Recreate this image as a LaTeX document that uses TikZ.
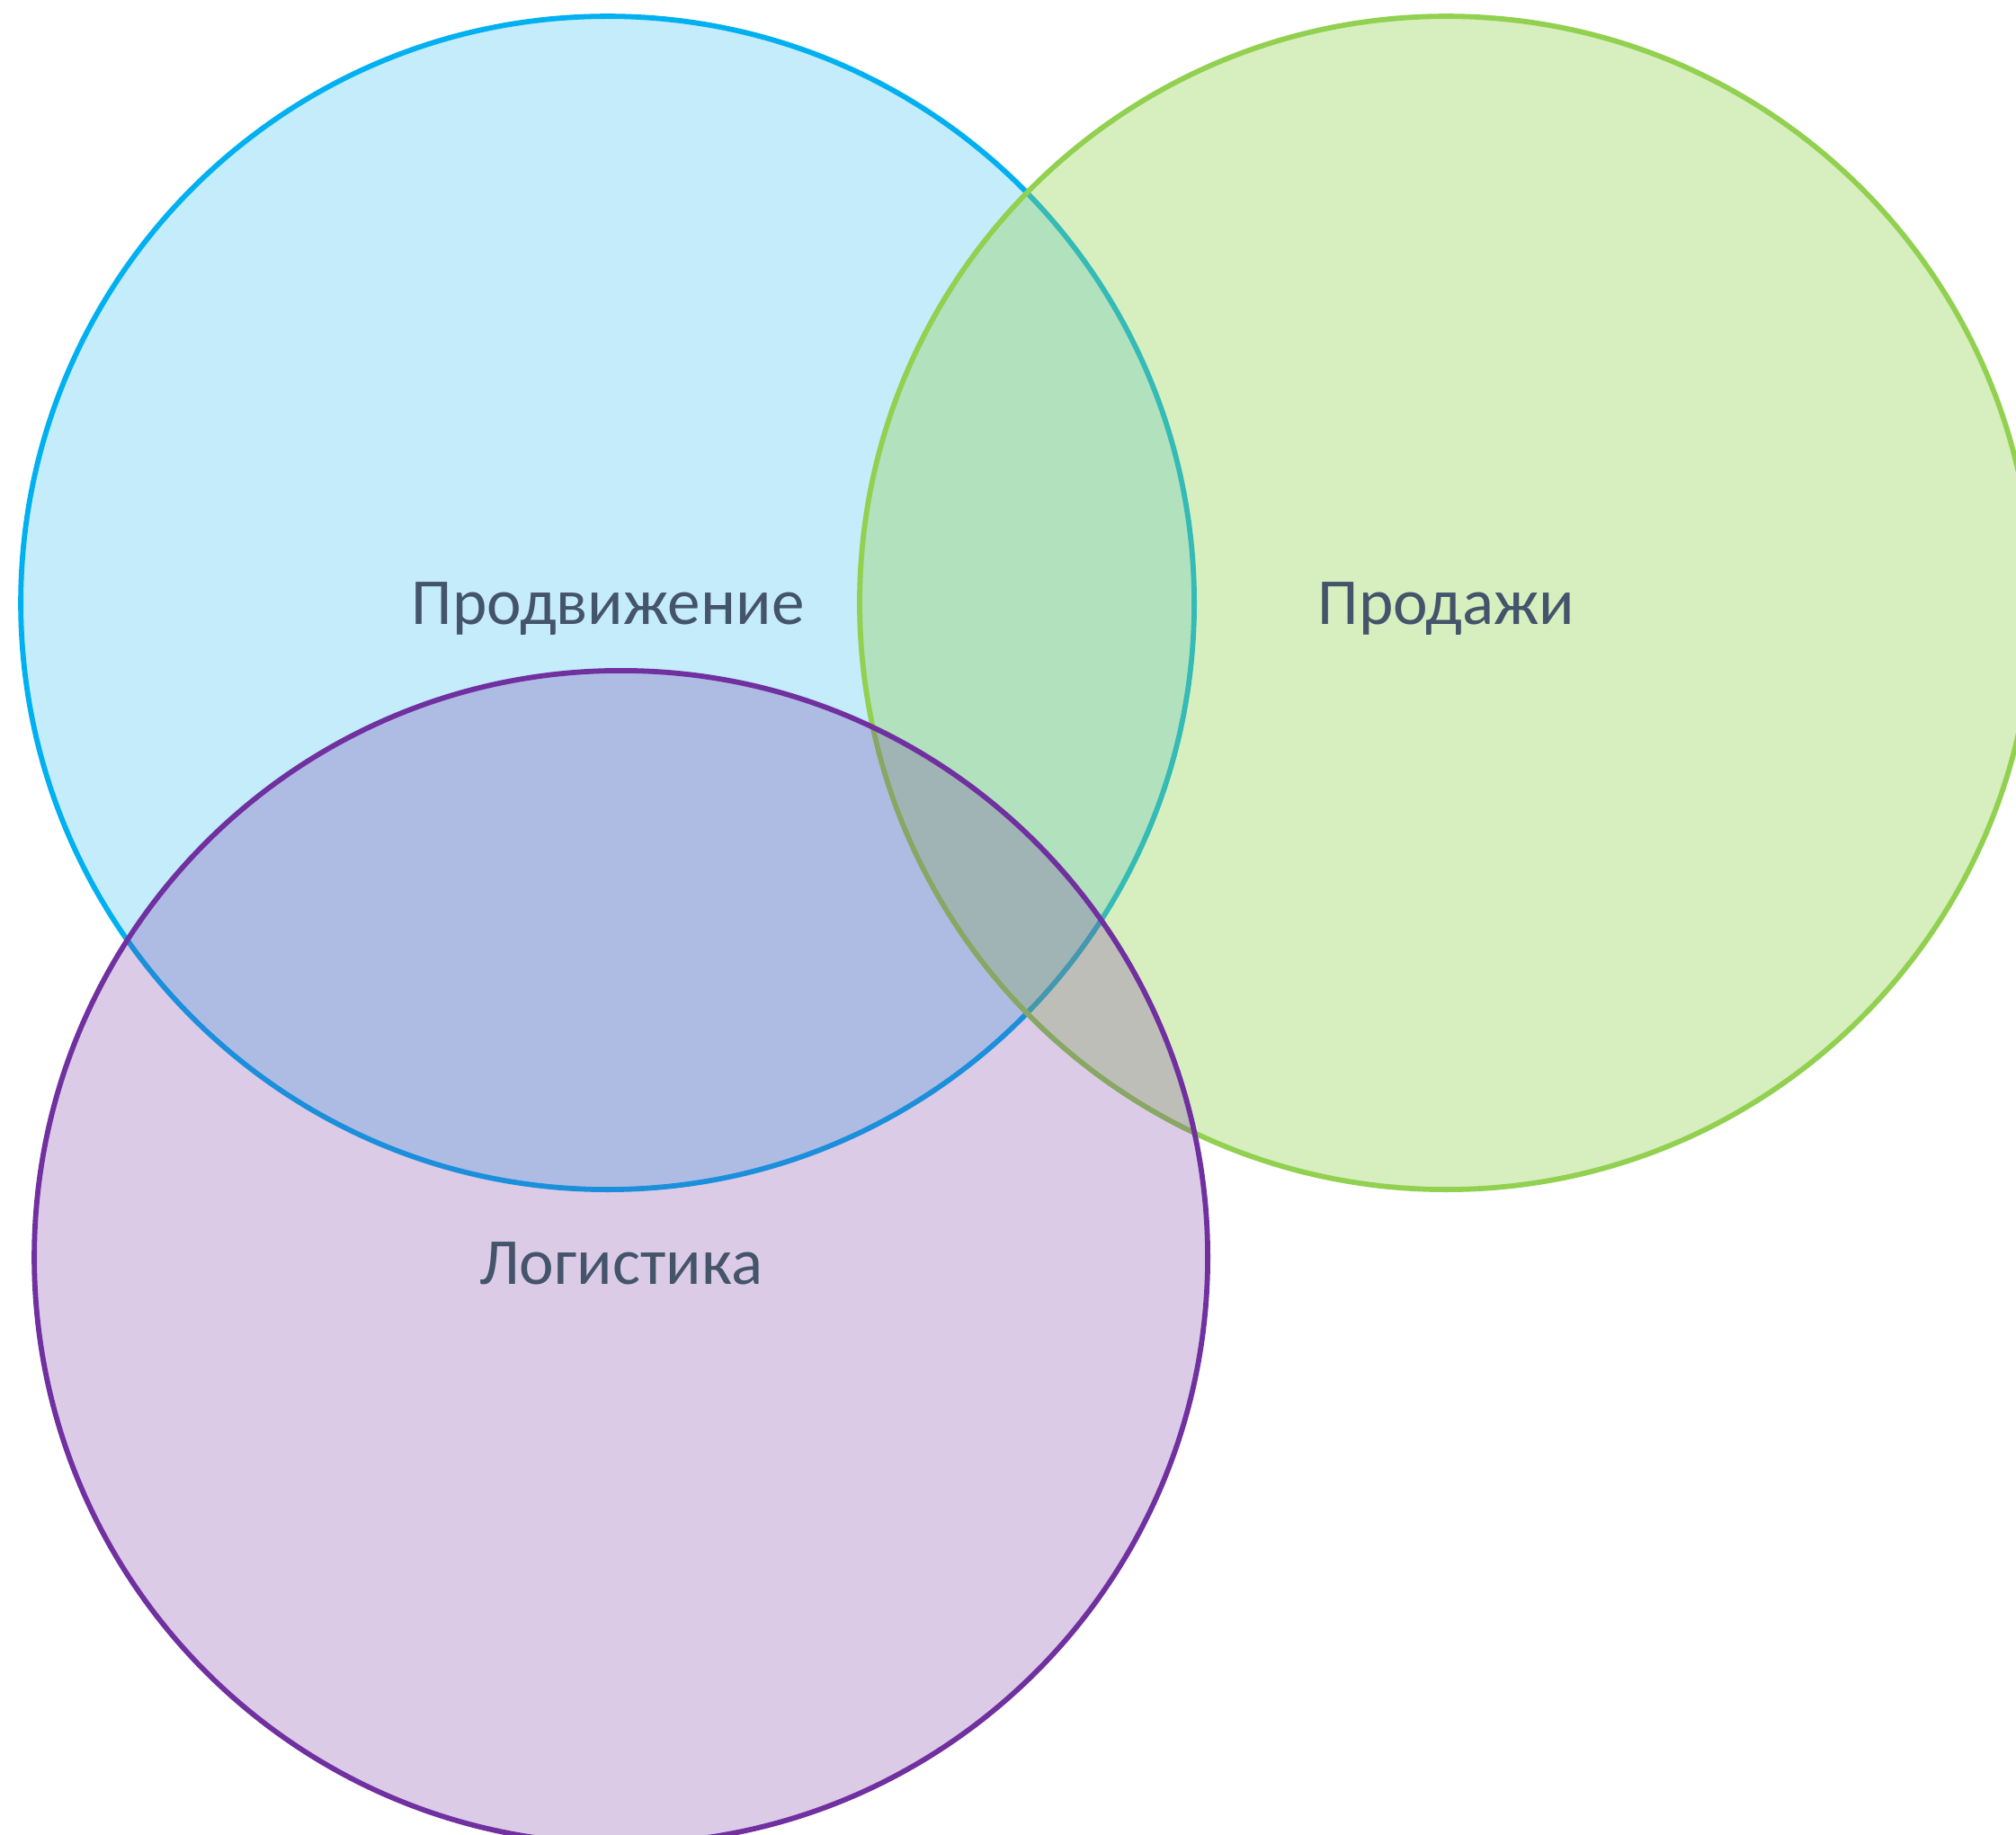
\documentclass[tikz,border=0pt]{standalone}
\usepackage{fontspec}
\setmainfont{Carlito}
\definecolor{cblue}{HTML}{00B0F0}
\definecolor{cgreen}{HTML}{92D050}
\definecolor{cpurple}{HTML}{7030A0}
\definecolor{ctext}{HTML}{44546A}
\begin{document}
\begin{tikzpicture}[
  setcircle/.style={line width=1.65pt},
  label/.style={text=ctext, font=\fontsize{20.8}{25}\selectfont, inner sep=0pt}
]
\clip (0,0) rectangle (22.42,-20.41);
\fill[white] (0,0) rectangle (22.42,-20.41);
\draw[setcircle, draw=cblue, fill=cblue, fill opacity=0.23] (6.756,-6.706) circle (6.525);
\draw[setcircle, draw=cgreen, fill=cgreen, fill opacity=0.36] (16.085,-6.706) circle (6.525);
\draw[setcircle, draw=cpurple, fill=cpurple, fill opacity=0.25] (6.906,-13.984) circle (6.525);
\node[label] (prom) at (6.76,-6.77) {Продвижение};
\node[label] (sales) at (16.085,-6.77) {Продажи};
\node[label] (log) at (6.906,-14.05) {Логистика};
\end{tikzpicture}
\end{document}
